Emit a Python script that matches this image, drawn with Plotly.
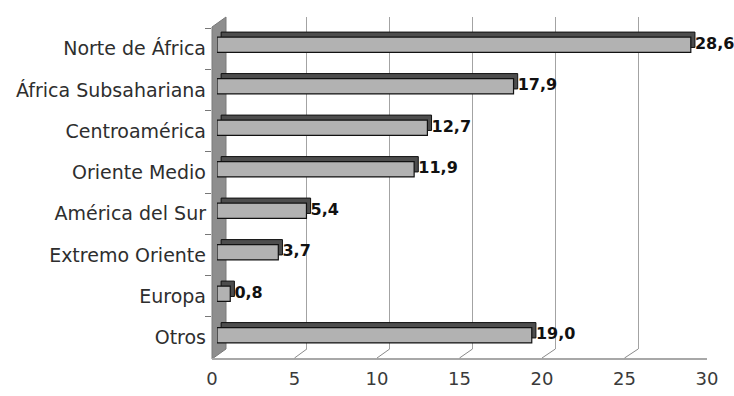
import plotly.graph_objects as go

# Distribución por zona de origen (%)
regiones = ['Norte de África', 'África Subsahariana', 'Centroamérica', 'Oriente Medio',
            'América del Sur', 'Extremo Oriente', 'Europa', 'Otros']
valores = [28.6, 17.9, 12.7, 11.9, 5.4, 3.7, 0.8, 19.0]
ticks_x = [0, 5, 10, 15, 20, 25, 30]

W, H = 734, 396
XMAX = 30

def px(x):
    return x / W

def py(y):
    return 1 - y / H

# planes of the fake 3D box (pixels)
FRONT = (212, 707, 28, 358)   # left, right, top, bottom
BARS = (217, 714, 24, 356)
BACK = (224, 721, 17, 349)

BAR_W = 0.37
DEPTH_X = 0.25
DEPTH_Y = 0.12
texto = [f'{v:.1f}'.replace('.', ',') for v in valores]

fig = go.Figure()

# back wall grid (subplot x/y)
fig.add_trace(go.Scatter(x=[0, XMAX], y=[0, 1], mode='markers', marker_opacity=0,
                         hoverinfo='skip', xaxis='x', yaxis='y'))

# bar depth (dark top / end face)
fig.add_trace(go.Bar(y=regiones, x=valores, base=DEPTH_X, orientation='h', width=BAR_W,
                     offset=-BAR_W / 2 - DEPTH_Y,
                     marker=dict(color='#4d4d4d', line=dict(color='#111111', width=1)),
                     hoverinfo='skip', xaxis='x2', yaxis='y2'))
# bar front face
fig.add_trace(go.Bar(y=regiones, x=valores, orientation='h', width=BAR_W,
                     marker=dict(color='#b2b2b2', line=dict(color='#111111', width=1.2)),
                     hoverinfo='skip', xaxis='x2', yaxis='y2'))
# value labels, just past the end face
fig.add_trace(go.Scatter(y=regiones, x=[v + DEPTH_X for v in valores], mode='text', text=texto,
                         textposition='middle right', cliponaxis=False,
                         textfont=dict(family='DejaVu Sans', size=16, color='#111111', weight='bold'),
                         hoverinfo='skip', xaxis='x2', yaxis='y2'))

# front plane: category labels and x tick labels
fig.add_trace(go.Scatter(y=regiones, x=valores, mode='markers', marker_opacity=0,
                         hoverinfo='skip', xaxis='x3', yaxis='y3'))

# left wall and floor marks
shapes = [dict(type='path', xref='paper', yref='paper', layer='below',
               path=f'M {px(FRONT[0])},{py(FRONT[3] + 1)} L {px(BACK[0] + 2)},{py(BACK[3])} '
                    f'L {px(BACK[0] + 2)},{py(BACK[2])} L {px(FRONT[0])},{py(BACK[2] + 10)} Z',
               fillcolor='#8e8e8e', line=dict(color='#7a7a7a', width=1))]
for t in ticks_x[1:-1]:
    fx = FRONT[0] + (FRONT[1] - FRONT[0]) * t / XMAX
    bx = BACK[0] + (BACK[1] - BACK[0]) * t / XMAX
    shapes.append(dict(type='line', xref='paper', yref='paper',
                       x0=px(fx), y0=py(FRONT[3]), x1=px(bx), y1=py(BACK[3]),
                       line=dict(color='#8a8a8a', width=1)))

fig.update_layout(
    width=W, height=H,
    margin=dict(l=0, r=0, t=0, b=0, autoexpand=False),
    paper_bgcolor='white', plot_bgcolor='rgba(0,0,0,0)',
    showlegend=False, barmode='overlay',
    font=dict(family='DejaVu Sans', color='#333333'),
    shapes=shapes,
    xaxis=dict(domain=[px(BACK[0]), px(BACK[1])], range=[0, XMAX], anchor='y',
               tickvals=ticks_x[1:-1], showgrid=True, gridcolor='#a3a3a3', gridwidth=1,
               showticklabels=False, zeroline=False, showline=False, ticks='',
               automargin=False),
    yaxis=dict(domain=[py(BACK[3]), py(BACK[2])], range=[0, 1], anchor='x',
               visible=False),
    xaxis2=dict(domain=[px(BARS[0]), px(BARS[1])], range=[0, XMAX], anchor='y2',
                visible=False),
    yaxis2=dict(domain=[py(BARS[3]), py(BARS[2])], range=[len(regiones) - 0.5, -0.5],
                anchor='x2', type='category', visible=False),
    xaxis3=dict(domain=[px(FRONT[0]), px(FRONT[1])], range=[0, XMAX], anchor='y3',
                tickvals=ticks_x, showgrid=False, zeroline=False,
                showline=True, linecolor='#a8a8a8', linewidth=1.5, ticks='',
                ticklabelstandoff=4,
                tickfont=dict(size=18, color='#3a3a3a'), automargin=False),
    yaxis3=dict(domain=[py(FRONT[3]), py(FRONT[2])], range=[len(regiones) - 0.5, -0.5],
                anchor='x3', type='category', showgrid=False, zeroline=False,
                showline=False, ticks='outside', tickson='boundaries', ticklen=6,
                ticklabelstandoff=5,
                tickcolor='#777777', tickfont=dict(size=19, color='#2e2e2e'),
                automargin=False),
)

fig.write_html('out.html', config={'displayModeBar': False},
               post_script="document.body.style.margin='0';document.body.style.overflow='hidden';")
